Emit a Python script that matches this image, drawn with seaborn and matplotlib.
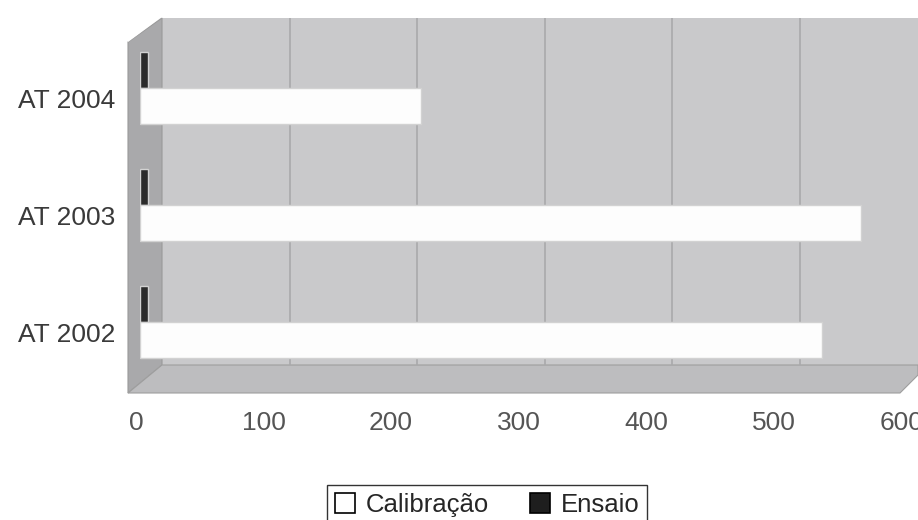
import matplotlib
matplotlib.use("Agg")
import matplotlib.pyplot as plt
import matplotlib.transforms as mtransforms
from matplotlib.patches import Polygon, Patch
import seaborn as sns
import pandas as pd

categories = ["AT 2004", "AT 2003", "AT 2002"]
calibracao = [220, 565, 535]
ensaio = [6, 6, 6]
x_ticks = [0, 100, 200, 300, 400, 500, 600]
series_names = ["Calibração", "Ensaio"]

df = pd.DataFrame({
    "cat": categories * 2,
    "val": calibracao + ensaio,
    "serie": [series_names[0]] * 3 + [series_names[1]] * 3,
})

sns.set_theme(style="white")
plt.rcParams["font.family"] = ["Liberation Sans", "DejaVu Sans"]

W, H = 918, 520
fig = plt.figure(figsize=(W / 100, H / 100), dpi=100)
ax = fig.add_axes([140 / W, 1 - 365 / H, 778 / W, 347 / H])
ax.set_facecolor("#c9c9cb")

def P(x, y):
    return (x / W, 1 - y / H)

# 3D-looking walls (decoration)
side = Polygon([P(128, 42), P(162, 18), P(162, 365), P(128, 393)],
               closed=True, transform=fig.transFigure, facecolor="#a9a9ab",
               edgecolor="#9a9a9a", lw=0.8, zorder=0.5, clip_on=False)
ax.add_patch(side)
corner = Polygon([P(128, 17), P(162, 17), P(128, 42)], closed=True,
                 transform=fig.transFigure, facecolor="white",
                 edgecolor="none", zorder=0.5, clip_on=False)
ax.add_patch(corner)
floor = Polygon([P(128, 393), P(162, 365), P(918, 365), P(918, 375), P(900, 393)],
                closed=True, transform=fig.transFigure, facecolor="#bdbdbf",
                edgecolor="#9e9e9e", lw=0.8, zorder=0.5, clip_on=False)
ax.add_patch(floor)

# back-wall gridlines (shifted to the back plane)
grid_tr = ax.get_xaxis_transform() + mtransforms.ScaledTranslation(22 / 100, 0, fig.dpi_scale_trans)
ax.vlines(x_ticks[1:], 0, 1, transform=grid_tr, colors="#a9a9ab", lw=1.2, zorder=0.6)

sns.barplot(data=df, y="cat", x="val", hue="serie", order=categories,
            hue_order=["Ensaio", "Calibração"],
            palette={"Calibração": "#fdfdfd", "Ensaio": "#2b2b2b"},
            width=0.62, orient="h", ax=ax, legend=False,
            edgecolor="#d2d2d2", linewidth=1.0, zorder=3)

ax.set_xlim(0, 610)
ax.set_ylim(2.368, -0.598)
ax.set_xticks(x_ticks)
ax.set_xticklabels([str(t) for t in x_ticks])
ax.set_xlabel("")
ax.set_ylabel("")
for s in ax.spines.values():
    s.set_visible(False)
ax.tick_params(axis="x", length=0, pad=33, labelsize=19, labelcolor="#555555")
ax.tick_params(axis="y", length=0, pad=18, labelsize=19, labelcolor="#3a3a3a")

xoff = mtransforms.ScaledTranslation(-4 / 100, 0, fig.dpi_scale_trans)
for lab in ax.get_xticklabels():
    lab.set_transform(lab.get_transform() + xoff)
yoff = mtransforms.ScaledTranslation(0, -11 / 100, fig.dpi_scale_trans)
for lab in ax.get_yticklabels():
    lab.set_transform(lab.get_transform() + yoff)

handles = [Patch(facecolor="white", edgecolor="black", lw=1.2),
           Patch(facecolor="#1e1e1e", edgecolor="black", lw=1.2)]
leg = fig.legend(handles, series_names, loc="upper center",
                 bbox_to_anchor=(487 / W, 1 - 485 / H), ncol=2,
                 frameon=True, fancybox=False, fontsize=18.5,
                 handlelength=0.8, handleheight=0.8, handletextpad=0.4,
                 columnspacing=1.6, borderpad=0.3, borderaxespad=0)
leg.get_frame().set_edgecolor("black")
leg.get_frame().set_linewidth(1.0)

fig.savefig("out.png", dpi=100, facecolor="white")
